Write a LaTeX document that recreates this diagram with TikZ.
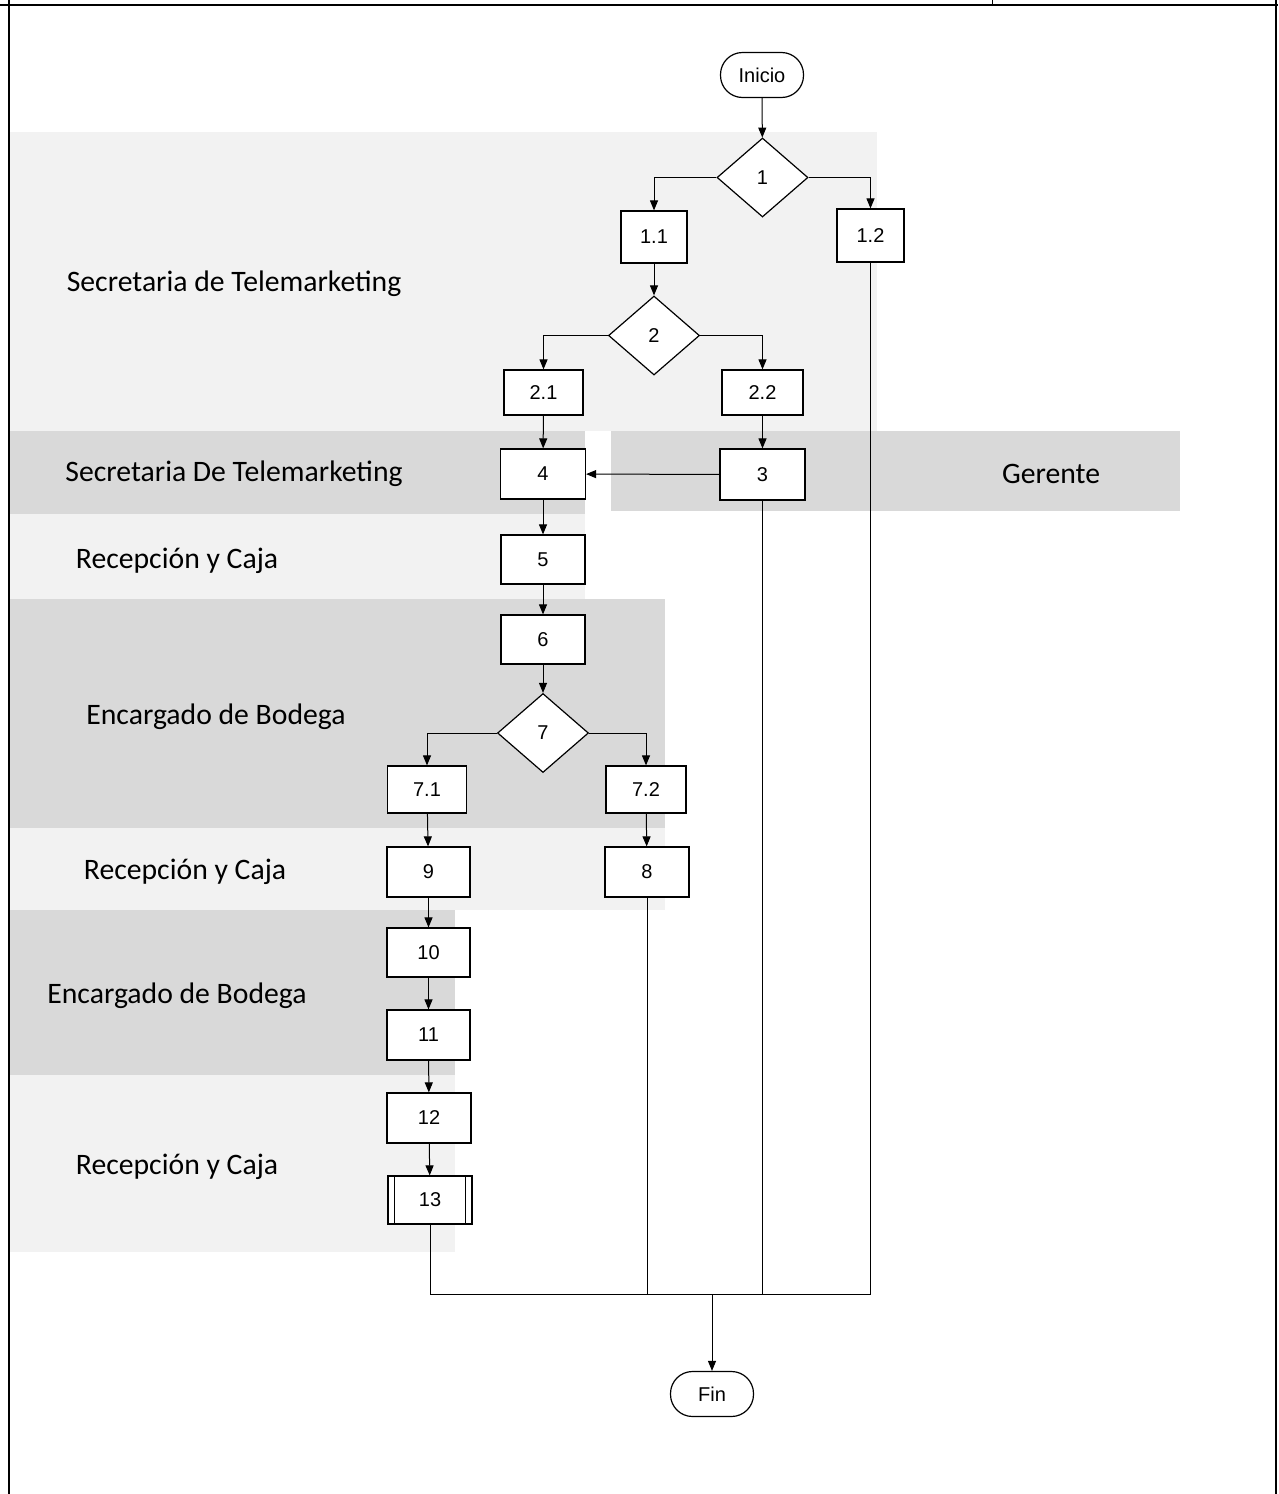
\documentclass[tikz,border=0pt]{standalone}
\usepackage{fontspec}
\setmainfont{Liberation Sans}
\newfontfamily\lanefont{Carlito}
\usetikzlibrary{arrows.meta,shapes.geometric}
\definecolor{lanelight}{HTML}{F2F2F2}
\definecolor{lanedark}{HTML}{D9D9D9}
\begin{document}
\begin{tikzpicture}[x=1pt,y=-1pt,
  stepbox/.style={draw,fill=white,line width=1.2pt,inner sep=0pt,
    font=\fontsize{20}{22}\selectfont},
  decision/.style={diamond,draw,fill=white,line width=1.2pt,inner sep=0pt,
    minimum width=91pt,minimum height=79pt,font=\fontsize{20}{22}\selectfont},
  terminal/.style={draw,fill=white,line width=1.2pt,inner sep=0pt,
    rounded corners=22pt,minimum width=83pt,minimum height=45pt,
    font=\fontsize{20}{22}\selectfont},
  lanelabel/.style={inner sep=0pt,font=\lanefont\fontsize{29.7}{34}\selectfont},
  arr/.style={line width=1pt,-{Triangle[length=10pt,width=8pt]}},
  link/.style={line width=1pt}
]
\useasboundingbox (0,0) rectangle (1278,1494);

% swimlane backgrounds
\fill[lanelight] (10,132) rectangle (877,431);
\fill[lanedark]  (10,431) rectangle (585,514);
\fill[lanedark]  (611,431) rectangle (1180,511);
\fill[lanelight] (10,514) rectangle (585,599);
\fill[lanedark]  (10,599) rectangle (665,828);
\fill[lanelight] (10,828) rectangle (665,910);
\fill[lanedark]  (10,910) rectangle (455,1075);
\fill[lanelight] (10,1075) rectangle (455,1252);

% frame of the sheet
\draw[line width=2pt] (0,5) -- (1278,5);
\draw[line width=2pt] (9,0) -- (9,1494);
\draw[line width=2pt] (1276,0) -- (1276,1494);
\draw[line width=1pt] (992,0) -- (992,5);

% lane labels
\node[lanelabel] (l1) at (234,284) {Secretaria de Telemarketing};
\node[lanelabel] (l2) at (234,474) {Secretaria De Telemarketing};
\node[lanelabel] (l3) at (1051,474) {Gerente};
\node[lanelabel] (l4) at (177,561) {Recepción y Caja};
\node[lanelabel] (l5) at (216,717) {Encargado de Bodega};
\node[lanelabel] (l6) at (185,872) {Recepción y Caja};
\node[lanelabel] (l7) at (177,996) {Encargado de Bodega};
\node[lanelabel] (l8) at (177,1167) {Recepción y Caja};

% flow nodes
\node[terminal] (ini) at (762,75) {Inicio};
\node[decision] (d1) at (762.5,177.5) {1};
\node[stepbox,minimum width=66pt,minimum height=52pt] (a11) at (654,237) {1.1};
\node[stepbox,minimum width=67pt,minimum height=53pt] (a12) at (870.5,235.5) {1.2};
\node[decision] (d2) at (654,335.5) {2};
\node[stepbox,minimum width=79pt,minimum height=45pt] (a21) at (543.5,392.5) {2.1};
\node[stepbox,minimum width=81pt,minimum height=45pt] (a22) at (762.5,392.5) {2.2};
\node[stepbox,minimum width=85pt,minimum height=50pt] (p4) at (543,474) {4};
\node[stepbox,minimum width=85pt,minimum height=51pt] (p3) at (762.5,474.5) {3};
\node[stepbox,minimum width=84pt,minimum height=49pt] (p5) at (543,559.5) {5};
\node[stepbox,minimum width=84pt,minimum height=49pt] (p6) at (543,639.5) {6};
\node[decision] (d7) at (543,733) {7};
\node[stepbox,minimum width=79pt,minimum height=47pt] (a71) at (427,789.5) {7.1};
\node[stepbox,minimum width=80pt,minimum height=47pt] (a72) at (646,789.5) {7.2};
\node[stepbox,minimum width=83pt,minimum height=50pt] (p9) at (428.5,872) {9};
\node[stepbox,minimum width=84pt,minimum height=50pt] (p8) at (647,872) {8};
\node[stepbox,minimum width=83pt,minimum height=49pt] (p10) at (428.5,952.5) {10};
\node[stepbox,minimum width=83pt,minimum height=50pt] (p11) at (428.5,1035) {11};
\node[stepbox,minimum width=84pt,minimum height=50pt] (p12) at (429,1118) {12};
\node[stepbox,minimum width=84pt,minimum height=48pt] (p13) at (430,1200) {13};
\draw[line width=1.2pt] ([xshift=7pt]p13.north west) -- ([xshift=7pt]p13.south west);
\draw[line width=1.2pt] ([xshift=-7pt]p13.north east) -- ([xshift=-7pt]p13.south east);
\node[terminal] (fin) at (712,1394) {Fin};

% connectors
\draw[arr] (ini) -- (d1);
\draw[arr] (d1.west) -| (a11.north);
\draw[arr] (d1.east) -| (a12.north);
\draw[arr] (a11) -- (d2);
\draw[arr] (d2.west) -| (a21.north);
\draw[arr] (d2.east) -| (a22.north);
\draw[arr] (a21) -- (p4);
\draw[arr] (a22) -- (p3);
\draw[arr] (p3) -- (p4);
\draw[arr] (p4) -- (p5);
\draw[arr] (p5) -- (p6);
\draw[arr] (p6) -- (d7);
\draw[arr] (d7.west) -| (a71.north);
\draw[arr] (d7.east) -| (a72.north);
\draw[arr] (a71) -- (p9);
\draw[arr] (a72) -- (p8);
\draw[arr] (p9) -- (p10);
\draw[arr] (p10) -- (p11);
\draw[arr] (p11) -- (p12);
\draw[arr] (p12) -- (p13);

% merge towards the end
\coordinate (join) at (712,1294);
\draw[link] (p13.south) |- (join);
\draw[link] (p8.south) |- (join);
\draw[link] (p3.south) |- (join);
\draw[link] (a12.south) |- (join);
\draw[arr] (join) -- (fin);
\end{tikzpicture}
\end{document}
